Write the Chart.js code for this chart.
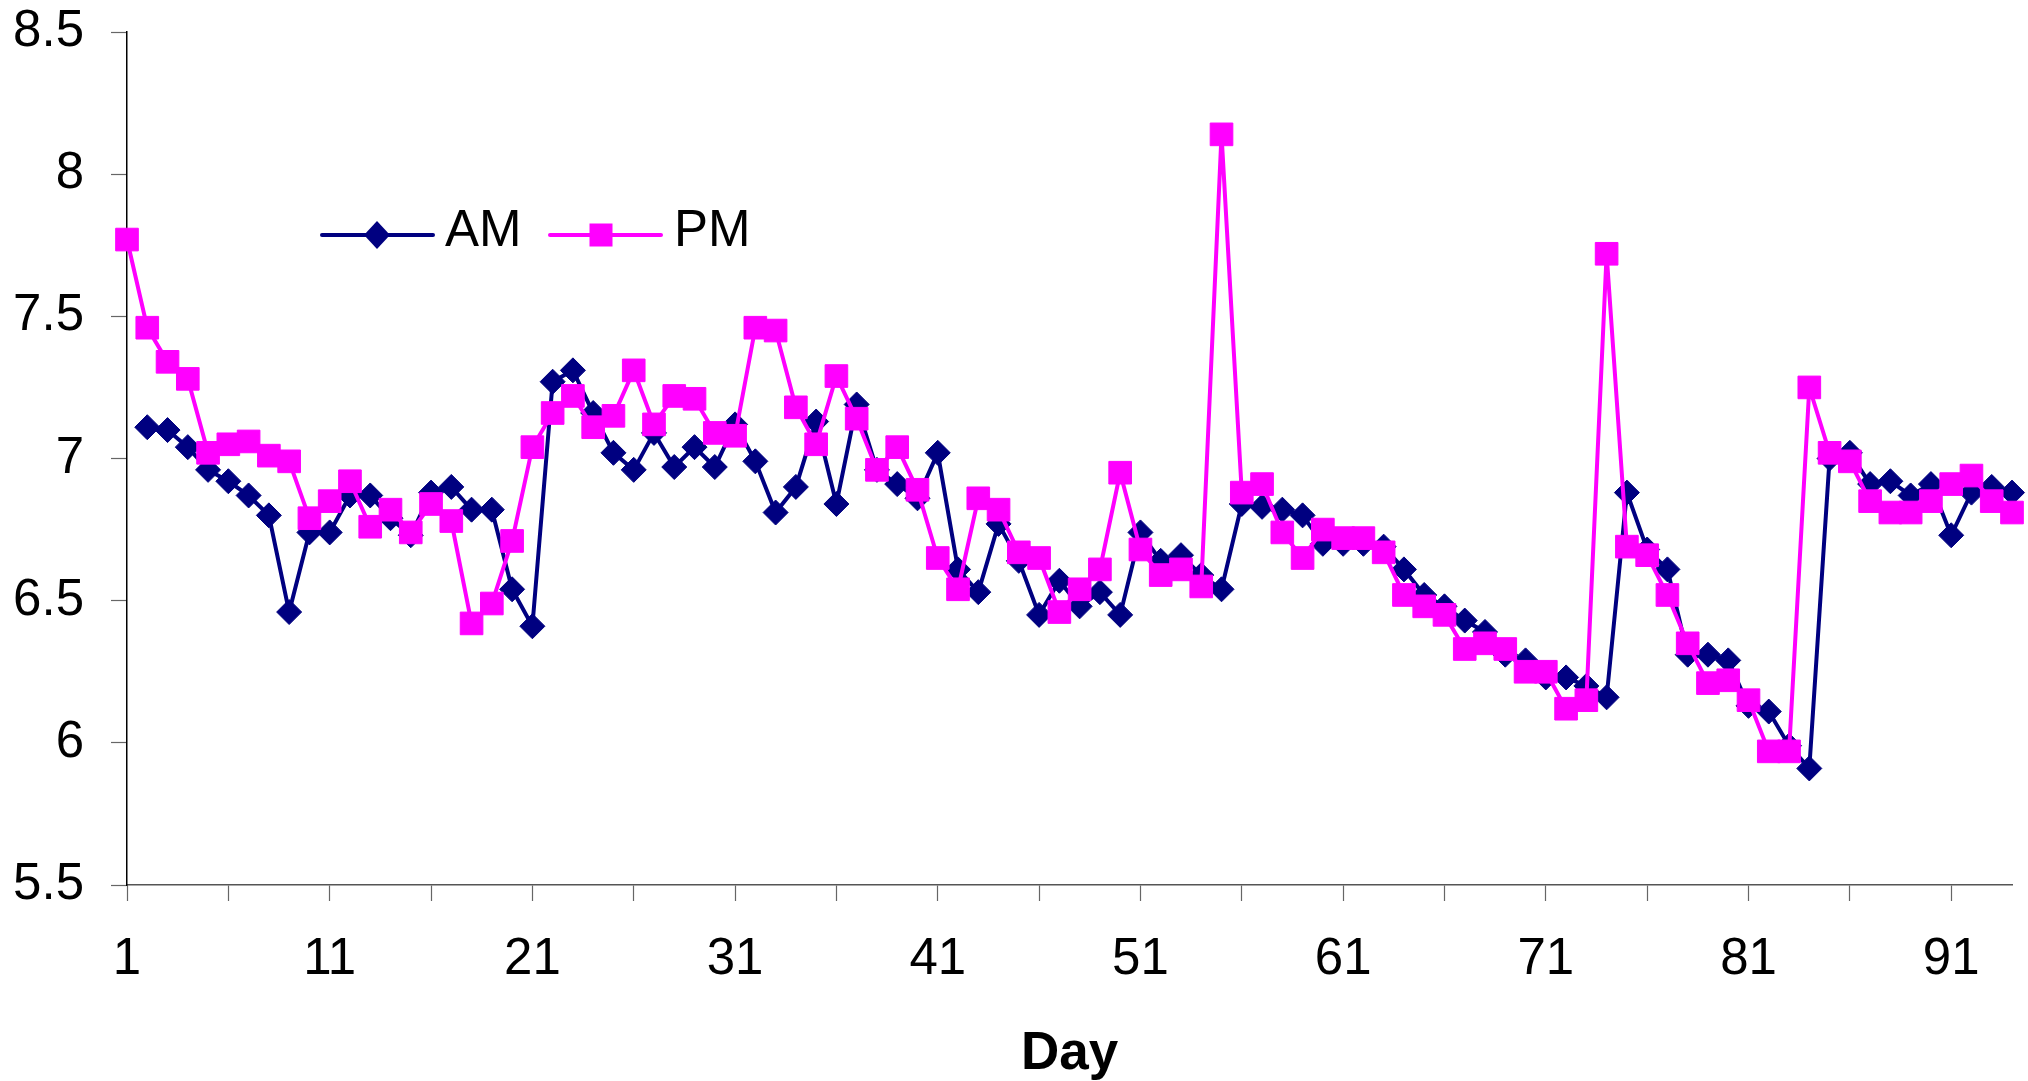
<!DOCTYPE html>
<html>
<head>
<meta charset="utf-8">
<title>AM / PM by Day</title>
<script src="https://cdn.jsdelivr.net/npm/chart.js@4.4.0/dist/chart.umd.min.js"></script>
<style>
  html, body { margin: 0; padding: 0; background: #fff; }
  canvas { display: block; }
</style>
</head>
<body>
<canvas id="day-chart" width="2028" height="1081"></canvas>
<script>
// categories
const days = ['1','2','3','4','5','6','7','8','9','10','11','12','13','14','15','16','17','18','19','20',
  '21','22','23','24','25','26','27','28','29','30','31','32','33','34','35','36','37','38','39','40',
  '41','42','43','44','45','46','47','48','49','50','51','52','53','54','55','56','57','58','59','60',
  '61','62','63','64','65','66','67','68','69','70','71','72','73','74','75','76','77','78','79','80',
  '81','82','83','84','85','86','87','88','89','90','91','92','93','94'];

// series values
const amValues = [null, 7.11, 7.10, 7.04, 6.96, 6.92, 6.87, 6.80, 6.46, 6.74,
  6.74, 6.87, 6.87, 6.79, 6.73, 6.88, 6.90, 6.82, 6.82, 6.54,
  6.41, 7.27, 7.31, 7.16, 7.02, 6.96, 7.09, 6.97, 7.04, 6.97,
  7.12, 6.99, 6.81, 6.90, 7.13, 6.84, 7.19, 6.96, 6.91, 6.86,
  7.02, 6.61, 6.53, 6.77, 6.64, 6.45, 6.57, 6.48, 6.53, 6.45,
  6.74, 6.64, 6.66, 6.59, 6.54, 6.84, 6.83, 6.82, 6.80, 6.70,
  6.70, 6.70, 6.69, 6.61, 6.52, 6.48, 6.43, 6.39, 6.31, 6.29,
  6.23, 6.23, 6.20, 6.16, 6.88, 6.68, 6.61, 6.31, 6.31, 6.29,
  6.13, 6.11, 5.99, 5.91, 7.00, 7.02, 6.91, 6.92, 6.87, 6.91,
  6.73, 6.88, 6.90, 6.88];

const pmValues = [7.77, 7.46, 7.34, 7.28, 7.02, 7.05, 7.06, 7.01, 6.99, 6.79,
  6.85, 6.92, 6.76, 6.82, 6.74, 6.84, 6.78, 6.42, 6.49, 6.71,
  7.04, 7.16, 7.22, 7.11, 7.15, 7.31, 7.12, 7.22, 7.21, 7.09,
  7.08, 7.46, 7.45, 7.18, 7.05, 7.29, 7.14, 6.96, 7.04, 6.89,
  6.65, 6.54, 6.86, 6.82, 6.67, 6.65, 6.46, 6.54, 6.61, 6.95,
  6.68, 6.59, 6.61, 6.55, 8.14, 6.88, 6.91, 6.74, 6.65, 6.75,
  6.72, 6.72, 6.67, 6.52, 6.48, 6.45, 6.33, 6.35, 6.33, 6.25,
  6.25, 6.12, 6.15, 7.72, 6.69, 6.66, 6.52, 6.35, 6.21, 6.22,
  6.15, 5.97, 5.97, 7.25, 7.02, 6.99, 6.85, 6.81, 6.81, 6.85,
  6.91, 6.94, 6.85, 6.81];

// tick labels
const xTickLabels = ['1','11','21','31','41','51','61','71','81','91'];
const xTickMarks = ['1','6','11','16','21','26','31','36','41','46','51','56','61','66','71','76','81','86','91'];
const yMin = 5.5, yMax = 8.5, yStep = 0.5;

const AM_COLOR = '#000080';
const PM_COLOR = '#ff00ff';
const FONT = '"Liberation Sans", Arial, sans-serif';

// legend sits inside the plot, drawn by hand like the original
const insideLegend = {
    id: 'insideLegend',
    afterDraw(chart) {
        const ctx = chart.ctx;
        const y = 235;
        ctx.save();
        ctx.lineWidth = 4;
        ctx.lineCap = 'round';

        // AM entry
        ctx.strokeStyle = AM_COLOR;
        ctx.beginPath(); ctx.moveTo(322, y); ctx.lineTo(433, y); ctx.stroke();
        ctx.fillStyle = AM_COLOR;
        ctx.beginPath();
        ctx.moveTo(377, y - 14); ctx.lineTo(390, y); ctx.lineTo(377, y + 14); ctx.lineTo(364, y);
        ctx.closePath(); ctx.fill();

        // PM entry
        ctx.strokeStyle = PM_COLOR;
        ctx.beginPath(); ctx.moveTo(550, y); ctx.lineTo(661, y); ctx.stroke();
        ctx.fillStyle = PM_COLOR;
        ctx.fillRect(601 - 11.5, y - 11.5, 23, 23);

        ctx.fillStyle = '#000';
        ctx.font = '51px ' + FONT;
        ctx.textBaseline = 'alphabetic';
        ctx.textAlign = 'left';
        ctx.fillText('AM', 445, 246);
        ctx.fillText('PM', 674, 246);
        ctx.restore();
    }
};

new Chart(document.getElementById('day-chart'), {
    type: 'line',
    data: {
        labels: days,
        datasets: [{
            label: 'AM',
            data: amValues,
            borderColor: AM_COLOR,
            backgroundColor: AM_COLOR,
            borderWidth: 4,
            pointStyle: 'rectRot',
            pointRadius: 12.5,
            pointBorderWidth: 1,
            tension: 0,
            clip: false,
            order: 2
        }, {
            label: 'PM',
            data: pmValues,
            borderColor: PM_COLOR,
            backgroundColor: PM_COLOR,
            borderWidth: 4,
            pointStyle: 'rect',
            pointRadius: 16,
            pointBorderWidth: 1,
            tension: 0,
            clip: false,
            order: 1
        }]
    },
    options: {
        responsive: false,
        animation: false,
        layout: { autoPadding: false, padding: { top: 32, right: 16, bottom: 0, left: 0 } },
        plugins: {
            legend: { display: false },
            tooltip: { enabled: false }
        },
        scales: {
            x: {
                type: 'category',
                offset: false,
                afterFit: (scale) => {
                    scale.height = 196;
                    // tick padding should only push labels down, not shrink the plot
                    scale.paddingLeft = 0;
                    scale.paddingRight = 0;
                },
                grid: {
                    drawOnChartArea: false,
                    drawTicks: true,
                    tickLength: 16,
                    tickWidth: 1.2,
                    tickColor: (c) => xTickMarks.includes(days[c.index]) ? '#666' : 'rgba(0,0,0,0)'
                },
                border: { display: true, color: '#555', width: 1.5 },
                ticks: {
                    autoSkip: false,
                    maxRotation: 0,
                    padding: 28,
                    color: '#000',
                    font: { family: FONT, size: 51 },
                    callback: function(value, index) {
                        const lbl = days[index];
                        return xTickLabels.includes(lbl) ? lbl : '';
                    }
                },
                title: {
                    display: true,
                    text: 'Day',
                    color: '#000',
                    padding: { top: 0, bottom: 0 },
                    font: { family: FONT, size: 53, weight: 'bold', lineHeight: 1 }
                }
            },
            y: {
                min: yMin,
                max: yMax,
                afterFit: (scale) => {
                    scale.width = 127;
                    scale.paddingTop = 0;
                    scale.paddingBottom = 0;
                },
                grid: {
                    drawOnChartArea: false,
                    drawTicks: true,
                    tickLength: 16,
                    tickWidth: 1.2,
                    tickColor: '#666'
                },
                border: { display: true, color: '#000', width: 1.5 },
                ticks: {
                    stepSize: yStep,
                    padding: 27,
                    color: '#000',
                    font: { family: FONT, size: 51 },
                    callback: (v) => String(Number(v.toFixed(1)))
                }
            }
        }
    },
    plugins: [insideLegend]
});
</script>
</body>
</html>
